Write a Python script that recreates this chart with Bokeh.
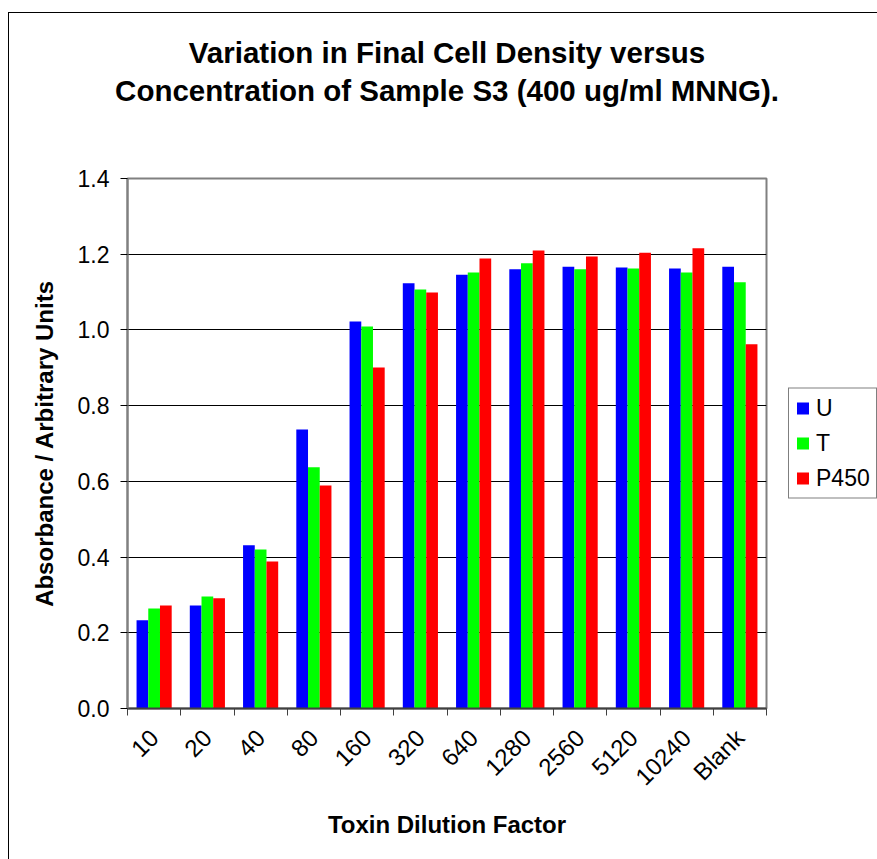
from math import pi
from bokeh.plotting import figure
from bokeh.models import (Range1d, LinearAxis, FixedTicker, Title,
                          Legend, LegendItem, PrintfTickFormatter, ColumnDataSource)
from bokeh.transform import dodge
from bokeh.embed import file_html
from bokeh.resources import INLINE

categories = ["10", "20", "40", "80", "160", "320", "640", "1280", "2560", "5120", "10240", "Blank"]
u_vals = [0.233, 0.272, 0.431, 0.737, 1.022, 1.123, 1.146, 1.160, 1.167, 1.165, 1.162, 1.167]
t_vals = [0.264, 0.296, 0.420, 0.637, 1.009, 1.107, 1.152, 1.176, 1.160, 1.162, 1.152, 1.126]
p_vals = [0.272, 0.291, 0.388, 0.589, 0.901, 1.099, 1.189, 1.210, 1.194, 1.204, 1.216, 0.962]
series_names = ["U", "T", "P450"]
y_ticks = [0.0, 0.2, 0.4, 0.6, 0.8, 1.0, 1.2, 1.4]

title_lines = ["Variation in Final Cell Density versus",
               "Concentration of Sample S3 (400 ug/ml MNNG)."]
x_title = "Toxin Dilution Factor"
y_title = "Absorbance / Arbitrary Units"

FONT = "Liberation Sans"

n = len(categories)
centers = [i + 0.5 for i in range(n)]
edges = list(range(n + 1))

src = ColumnDataSource(dict(xc=centers, U=u_vals, T=t_vals, P=p_vals))

p = figure(x_range=Range1d(0, n), y_range=Range1d(0, 1.4),
           frame_width=639, frame_height=530,
           min_border_left=118, min_border_top=165, min_border_right=111, min_border_bottom=151,
           output_backend="svg", toolbar_location=None, x_axis_location=None,
           background_fill_color="white", border_fill_color="white")
p.margin = (12, 0, 0, 8)
p.styles = {"border-left": "1px solid black", "border-top": "1px solid black"}

bw = 0.22
r_u = p.vbar(x=dodge("xc", -bw), top="U", width=bw, source=src,
             fill_color="#0000FF", line_color=None)
r_t = p.vbar(x=dodge("xc", 0.0), top="T", width=bw, source=src,
             fill_color="#00FF00", line_color=None)
r_p = p.vbar(x=dodge("xc", bw), top="P", width=bw, source=src,
             fill_color="#FF0000", line_color=None)

# outline / grid
p.outline_line_color = "#808080"
p.outline_line_width = 2
p.xgrid.grid_line_color = None
p.ygrid.ticker = FixedTicker(ticks=y_ticks)
p.ygrid.grid_line_color = "black"
p.ygrid.grid_line_width = 1

# y axis
ya = p.yaxis[0]
ya.ticker = FixedTicker(ticks=y_ticks)
ya.formatter = PrintfTickFormatter(format="%.1f")
ya.major_label_text_font = FONT
ya.major_label_text_font_size = "23px"
ya.major_label_text_color = "black"
ya.major_tick_out = 7
ya.major_tick_in = 0
ya.minor_tick_out = 0
ya.minor_tick_in = 0
ya.major_tick_line_color = "black"
ya.axis_line_color = "#808080"
ya.axis_line_width = 2
ya.major_label_standoff = 11
ya.axis_label = y_title
ya.axis_label_text_font = FONT
ya.axis_label_text_font_style = "bold"
ya.axis_label_text_font_size = "24px"
ya.axis_label_text_color = "black"
ya.axis_label_standoff = 17

# x axes: edge ticks + category labels
edge_axis = LinearAxis(ticker=FixedTicker(ticks=edges),
                       major_label_overrides={e: "" for e in edges},
                       major_label_text_font_size="1px", major_tick_out=7, major_tick_in=0,
                       minor_tick_out=0, minor_tick_in=0, major_tick_line_color="#404040",
                       axis_line_color="#404040", axis_line_width=2, major_label_standoff=0)
p.add_layout(edge_axis, "below")

cat_axis = LinearAxis(ticker=FixedTicker(ticks=centers),
                      major_label_overrides={c: lab for c, lab in zip(centers, categories)},
                      major_tick_line_color=None, minor_tick_line_color=None, axis_line_color=None,
                      major_label_orientation=pi / 4,
                      major_label_text_font=FONT, major_label_text_font_size="24px",
                      major_label_text_color="black", major_label_standoff=12,
                      axis_label=x_title, axis_label_text_font=FONT,
                      axis_label_text_font_style="bold", axis_label_text_font_size="24px",
                      axis_label_text_color="black", axis_label_standoff=8)
p.add_layout(cat_axis, "below")

# title: spacer nearest the frame, then line 2, then line 1 (stacked outward)
common = dict(align="center", text_font=FONT, text_font_size="29.5px",
              text_font_style="bold", text_color="black", vertical_align="bottom")
p.add_layout(Title(text=" ", standoff=37, **common), "above")
p.add_layout(Title(text=title_lines[1], standoff=0, **common), "above")
p.add_layout(Title(text=title_lines[0], standoff=5, **common), "above")

legend = Legend(items=[LegendItem(label=series_names[0], renderers=[r_u]),
                       LegendItem(label=series_names[1], renderers=[r_t]),
                       LegendItem(label=series_names[2], renderers=[r_p])],
                location="center_left", margin=22, padding=6, spacing=8,
                glyph_width=15, glyph_height=15, label_height=23, label_standoff=6,
                label_text_font=FONT, label_text_font_size="23px", label_text_color="black",
                border_line_color="black", border_line_width=1, background_fill_color="white")
p.add_layout(legend, "right")

open("out.html", "w").write(file_html(p, INLINE))
